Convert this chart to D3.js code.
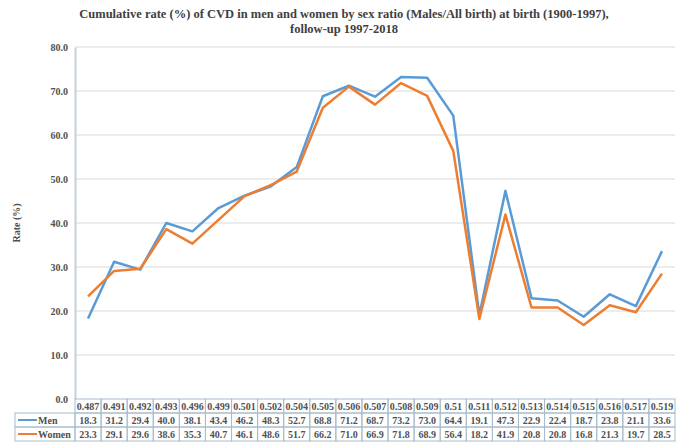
<!DOCTYPE html>
<html><head><meta charset="utf-8">
<script src="https://cdn.jsdelivr.net/npm/d3@7"></script>
<style>body{margin:0;background:#fff}svg{display:block}</style>
</head><body>
<script>
const categories = ["0.487","0.491","0.492","0.493","0.496","0.499","0.501","0.502","0.504","0.505","0.506","0.507","0.508","0.509","0.51","0.511","0.512","0.513","0.514","0.515","0.516","0.517","0.519"];
const menValues = [18.3,31.2,29.4,40.0,38.1,43.4,46.2,48.3,52.7,68.8,71.2,68.7,73.2,73.0,64.4,19.1,47.3,22.9,22.4,18.7,23.8,21.1,33.6];
const womenValues = [23.3,29.1,29.6,38.6,35.3,40.7,46.1,48.6,51.7,66.2,71.0,66.9,71.8,68.9,56.4,18.2,41.9,20.8,20.8,16.8,21.3,19.7,28.5];
const yTicks = [0,10,20,30,40,50,60,70,80];
const seriesNames = ["Men","Women"];
const seriesColors = ["#5b9bd5","#ed7d31"];
const titleLines = ["Cumulative rate (%) of CVD in men and women by sex ratio (Males/All birth) at birth (1900-1997),","follow-up 1997-2018"];

const W=685,H=447;
const L=75,R=675,T=47,B=399;
const svg=d3.select("body").append("svg").attr("width",W).attr("height",H);
const font="'Liberation Serif','Times New Roman',serif";

const x=d3.scaleBand().domain(categories).range([L,R]);
const y=d3.scaleLinear().domain([0,80]).range([B,T]);

// title
svg.append("g").selectAll("text").data(titleLines).join("text")
 .attr("x",344).attr("y",(d,i)=>18+i*15).attr("text-anchor","middle")
 .attr("font-family",font).attr("font-weight","bold").attr("font-size",12.5).attr("fill","#404040").text(d=>d);

// gridlines
svg.append("g").selectAll("line").data(yTicks.filter(d=>d>0)).join("line")
 .attr("x1",L).attr("x2",R).attr("y1",d=>y(d)).attr("y2",d=>y(d))
 .attr("stroke","#d9d9d9").attr("stroke-width",1);

// y axis
const yAxis=d3.axisLeft(y).tickValues(yTicks).tickFormat(d3.format(".1f")).tickSize(0).tickPadding(7);
const ga=svg.append("g").attr("transform",`translate(${L},0)`).call(yAxis);
ga.select(".domain").attr("stroke","#c5d0da").attr("stroke-width",2);
ga.selectAll("text").attr("font-family",font).attr("font-weight","bold").attr("font-size",10).attr("fill","#505050");

svg.append("text").attr("transform","translate(20,223) rotate(-90)").attr("text-anchor","middle")
 .attr("font-family",font).attr("font-weight","bold").attr("font-size",10).attr("fill","#505050").text("Rate (%)");

// lines
const line=d3.line().x((d,i)=>x(categories[i])+x.bandwidth()/2).y(d=>y(d));
[menValues,womenValues].forEach((vals,k)=>{
 svg.append("path").datum(vals).attr("d",line).attr("fill","none")
  .attr("stroke",seriesColors[k]).attr("stroke-width",2.5).attr("stroke-linejoin","round");
});

// data table
const rowH=14;
const tbl=svg.append("g");
const bc="#a9bccb";
const rows=[menValues,womenValues];
tbl.selectAll("rect.h").data(categories).join("rect")
 .attr("x",d=>x(d)).attr("y",B).attr("width",x.bandwidth()).attr("height",rowH)
 .attr("fill","none").attr("stroke",bc).attr("stroke-width",1);
tbl.selectAll("text.h").data(categories).join("text")
 .attr("x",d=>x(d)+x.bandwidth()/2).attr("y",B+rowH/2+3.5).attr("text-anchor","middle")
 .attr("font-family",font).attr("font-weight","bold").attr("font-size",10).attr("fill","#505050").text(d=>d);
rows.forEach((vals,k)=>{
 const yy=B+rowH*(k+1);
 tbl.append("rect").attr("x",15).attr("y",yy).attr("width",L-15).attr("height",rowH)
  .attr("fill","none").attr("stroke",bc);
 tbl.append("line").attr("x1",18).attr("x2",37).attr("y1",yy+rowH/2).attr("y2",yy+rowH/2)
  .attr("stroke",seriesColors[k]).attr("stroke-width",2);
 tbl.append("text").attr("x",38).attr("y",yy+rowH/2+3.5)
  .attr("font-family",font).attr("font-weight","bold").attr("font-size",10).attr("fill","#505050").text(seriesNames[k]);
 tbl.selectAll(null).data(vals).join("rect")
  .attr("x",(d,i)=>x(categories[i])).attr("y",yy).attr("width",x.bandwidth()).attr("height",rowH)
  .attr("fill","none").attr("stroke",bc);
 tbl.selectAll(null).data(vals).join("text")
  .attr("x",(d,i)=>x(categories[i])+x.bandwidth()/2).attr("y",yy+rowH/2+3.5).attr("text-anchor","middle")
  .attr("font-family",font).attr("font-weight","bold").attr("font-size",10).attr("fill","#505050").text(d=>d.toFixed(1));
});
</script>
</body></html>
